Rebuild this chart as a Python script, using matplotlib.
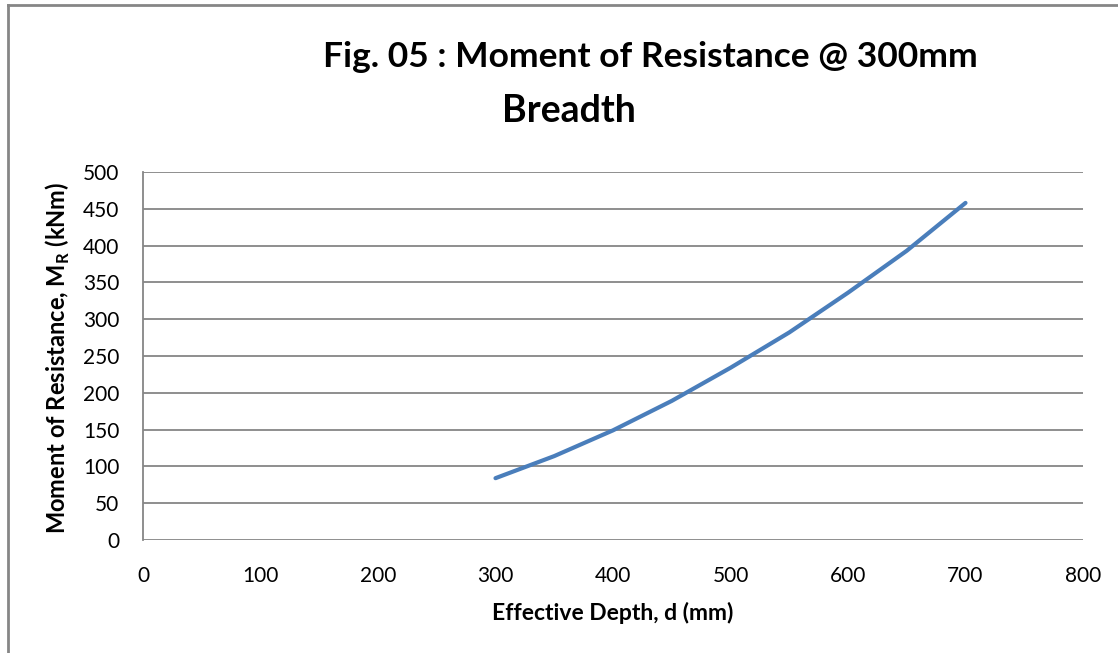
import matplotlib
matplotlib.use('Agg')
import matplotlib.pyplot as plt
from matplotlib.lines import Line2D

# Effective depth d (mm) vs moment of resistance (kNm)
depth_mm = [300, 350, 400, 450, 500, 550, 600, 650, 700]
moment_knm = [84, 114, 149, 189, 234, 282, 336, 393, 458]

x_ticks = [0, 100, 200, 300, 400, 500, 600, 700, 800]
y_ticks = [0, 50, 100, 150, 200, 250, 300, 350, 400, 450, 500]

plt.rcParams['font.family'] = ['Lato', 'DejaVu Sans']

W, H = 1118, 653
fig = plt.figure(figsize=(W / 100, H / 100), dpi=100)
ax = fig.add_axes([143 / W, 1 - 540 / H, (1083 - 143) / W, (540 - 172) / H])

ax.plot(depth_mm, moment_knm, color='#4a7ebb', lw=3, solid_capstyle='round')

ax.set_xlim(0, 800)
ax.set_ylim(0, 500)
ax.set_xticks(x_ticks)
ax.set_yticks(y_ticks)
ax.tick_params(length=0, labelsize=15)
ax.tick_params(axis='y', pad=17)
ax.tick_params(axis='x', pad=19)
ax.grid(axis='y', color='#868686', lw=1.3)
ax.set_axisbelow(True)
for side in ['top', 'right', 'bottom']:
    ax.spines[side].set_visible(False)
ax.spines['left'].set_color('#868686')
ax.spines['left'].set_linewidth(1.3)

fig.text(58 / W, 1 - 358 / H, 'Moment of Resistance, M$_\\mathregular{R}$ (kNm)',
         rotation=90, ha='center', va='center', fontsize=17, fontweight='bold')
fig.text(613 / W, 1 - 613 / H, 'Effective Depth, d (mm)',
         ha='center', va='center', fontsize=16.5, fontweight='bold')

# title, two lines as in the original
fig.text(650 / W, 1 - 57 / H, 'Fig. 05 : Moment of Resistance @ 300mm',
         ha='center', va='center', fontsize=25.5, fontweight='bold')
fig.text(569 / W, 1 - 111 / H, 'Breadth',
         ha='center', va='center', fontsize=27, fontweight='bold')

# outer chart frame (left and top edges visible)
fig.add_artist(Line2D([8 / W, 8 / W], [0, 1 - 5 / H], color='#868686', lw=2))
fig.add_artist(Line2D([8 / W, 1], [1 - 5 / H, 1 - 5 / H], color='#868686', lw=2))

fig.savefig('out.png', dpi=100)
